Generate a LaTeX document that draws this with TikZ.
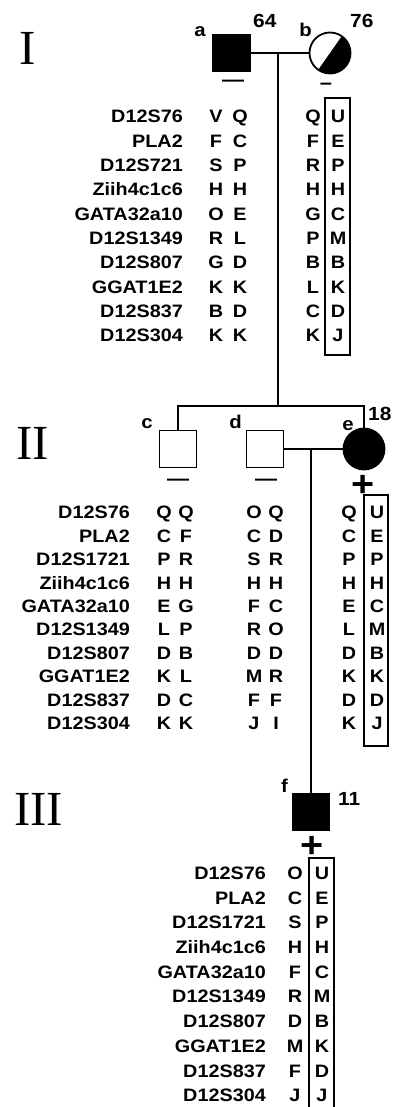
\documentclass[tikz,border=0pt]{standalone}
\usepackage{fontspec}
\setmainfont{Liberation Sans}
\newfontfamily\pedfont{Liberation Sans}[FakeStretch=1.1]
\newfontfamily\genfont{Liberation Serif}

\tikzset{
  line/.style={line width=1.8pt},
  male/.style={rectangle,draw,line width=1.8pt,minimum size=37pt,inner sep=0pt,outer sep=0pt},
  female/.style={circle,draw,line width=1.8pt,minimum size=41pt,inner sep=0pt,outer sep=0pt},
  allelebox/.style={draw,line width=1.5pt},
  txt/.style={inner sep=0pt,font={\pedfont\bfseries\fontsize{18pt}{18pt}\selectfont}},
  marker/.style={txt,anchor=east,text height=12.9pt,text depth=0pt},
  allele/.style={txt,text height=12.9pt,text depth=0pt},
  tag/.style={txt,anchor=base east,font={\pedfont\bfseries\fontsize{18.5pt}{18.5pt}\selectfont}},
  age/.style={txt,anchor=base west,font={\pedfont\bfseries\fontsize{19pt}{19pt}\selectfont}},
  minus/.style={txt,anchor=base,font={\pedfont\bfseries\fontsize{20pt}{20pt}\selectfont}},
  plus/.style={txt,anchor=base,font={\pedfont\bfseries\fontsize{36pt}{36pt}\selectfont}},
  gen/.style={inner sep=0pt,anchor=base west,font={\genfont\fontsize{49pt}{49pt}\selectfont}}
}

\begin{document}
\begin{tikzpicture}[x=1pt,y=1pt]
  \useasboundingbox (0,0) rectangle (404,-1107);

  % Generation I
  \node[gen] (gI) at (19,-65) {I};
  \node[male,fill] (a) at (231.5,-53) {};
  \node[female] (b) at (330,-53) {};
  \fill (b.55) arc[start angle=55,end angle=-125,radius=20.5pt] -- cycle;
  \node[tag] (la) at (206,-37) {a};
  \node[age] (na) at (253,-28) {64};
  \node[tag] (lb) at (312,-37) {b};
  \node[age] (nb) at (350,-28) {76};
  \node[minus] (sa) at (233,-86.2) {—};
  \node[minus] (sb) at (326,-89.2) {–};
  \coordinate (ab) at (278,-53);
  \draw[line] (a) -- (b);

  \foreach \m/\p/\q/\r/\s [count=\i] in {D12S76/V/Q/Q/U, PLA2/F/C/F/E, D12S721/S/P/R/P,
      Ziih4c1c6/H/H/H/H, GATA32a10/O/E/G/C, D12S1349/R/L/P/M, D12S807/G/D/B/B,
      GGAT1E2/K/K/L/K, D12S837/B/D/C/D, D12S304/K/K/K/J} {
    \node[marker] (mI-\i) at (183,{-116.5-24.3*(\i-1)}) {\m};
    \node[allele] (aI-\i) at (216,{-116.5-24.3*(\i-1)}) {\p};
    \node[allele] (aII-\i) at (240,{-116.5-24.3*(\i-1)}) {\q};
    \node[allele] (bI-\i) at (313,{-116.5-24.3*(\i-1)}) {\r};
    \node[allele] (bII-\i) at (338,{-116.5-24.3*(\i-1)}) {\s};
  }
  \draw[allelebox] (325,-98) rectangle (350,-355);

  % Generation II
  \node[gen] (gII) at (16,-459) {II};
  \node[male] (c) at (178,-449) {};
  \node[male] (d) at (265,-449) {};
  \node[female,fill] (e) at (364,-449) {};
  \node[tag] (lc) at (153,-428) {c};
  \node[tag] (ld) at (242,-428) {d};
  \node[tag] (le) at (354,-430) {e};
  \node[age] (ne) at (368,-420) {18};
  \node[minus] (sc) at (178,-485.2) {—};
  \node[minus] (sd) at (266,-485.2) {—};
  \node[plus] (se) at (363.5,-496) {+};
  \coordinate (sib) at (278,-406);
  \draw[line] (ab) -- (sib);
  \draw[line] (c.north) -- (c.north |- sib) -- (e.north |- sib) -- (e.north);
  \coordinate (de) at (311,-449);
  \draw[line] (d) -- (e);

  \foreach \m/\p/\q/\r/\s/\t/\u [count=\i] in {D12S76/Q/Q/O/Q/Q/U, PLA2/C/F/C/D/C/E,
      D12S1721/P/R/S/R/P/P, Ziih4c1c6/H/H/H/H/H/H, GATA32a10/E/G/F/C/E/C,
      D12S1349/L/P/R/O/L/M, D12S807/D/B/D/D/D/B, GGAT1E2/K/L/M/R/K/K,
      D12S837/D/C/F/F/D/D, D12S304/K/K/J/I/K/J} {
    \node[marker] (mII-\i) at (130,{-512.5-23.4*(\i-1)}) {\m};
    \node[allele] (cI-\i) at (164,{-512.5-23.4*(\i-1)}) {\p};
    \node[allele] (cII-\i) at (186,{-512.5-23.4*(\i-1)}) {\q};
    \node[allele] (dI-\i) at (254,{-512.5-23.4*(\i-1)}) {\r};
    \node[allele] (dII-\i) at (276,{-512.5-23.4*(\i-1)}) {\s};
    \node[allele] (eI-\i) at (349,{-512.5-23.4*(\i-1)}) {\t};
    \node[allele] (eII-\i) at (377,{-512.5-23.4*(\i-1)}) {\u};
  }
  \draw[allelebox] (364,-495) rectangle (388,-746);

  % Generation III
  \node[gen] (gIII) at (14,-825) {III};
  \node[male,fill] (f) at (311,-812) {};
  \node[tag] (lf) at (288,-792) {f};
  \node[age] (nf) at (338,-805) {11};
  \node[plus] (sf) at (312,-857) {+};
  \draw[line] (de) -- (f);

  \foreach \m/\p/\q [count=\i] in {D12S76/O/U, PLA2/C/E, D12S1721/S/P, Ziih4c1c6/H/H,
      GATA32a10/F/C, D12S1349/R/M, D12S807/D/B, GGAT1E2/M/K, D12S837/F/D, D12S304/J/J} {
    \node[marker] (mIII-\i) at (266,{-873-24.7*(\i-1)}) {\m};
    \node[allele] (fI-\i) at (295,{-873-24.7*(\i-1)}) {\p};
    \node[allele] (fII-\i) at (322,{-873-24.7*(\i-1)}) {\q};
  }
  \draw[allelebox] (309,-1107) |- (334,-858) -- (334,-1107);
\end{tikzpicture}
\end{document}
